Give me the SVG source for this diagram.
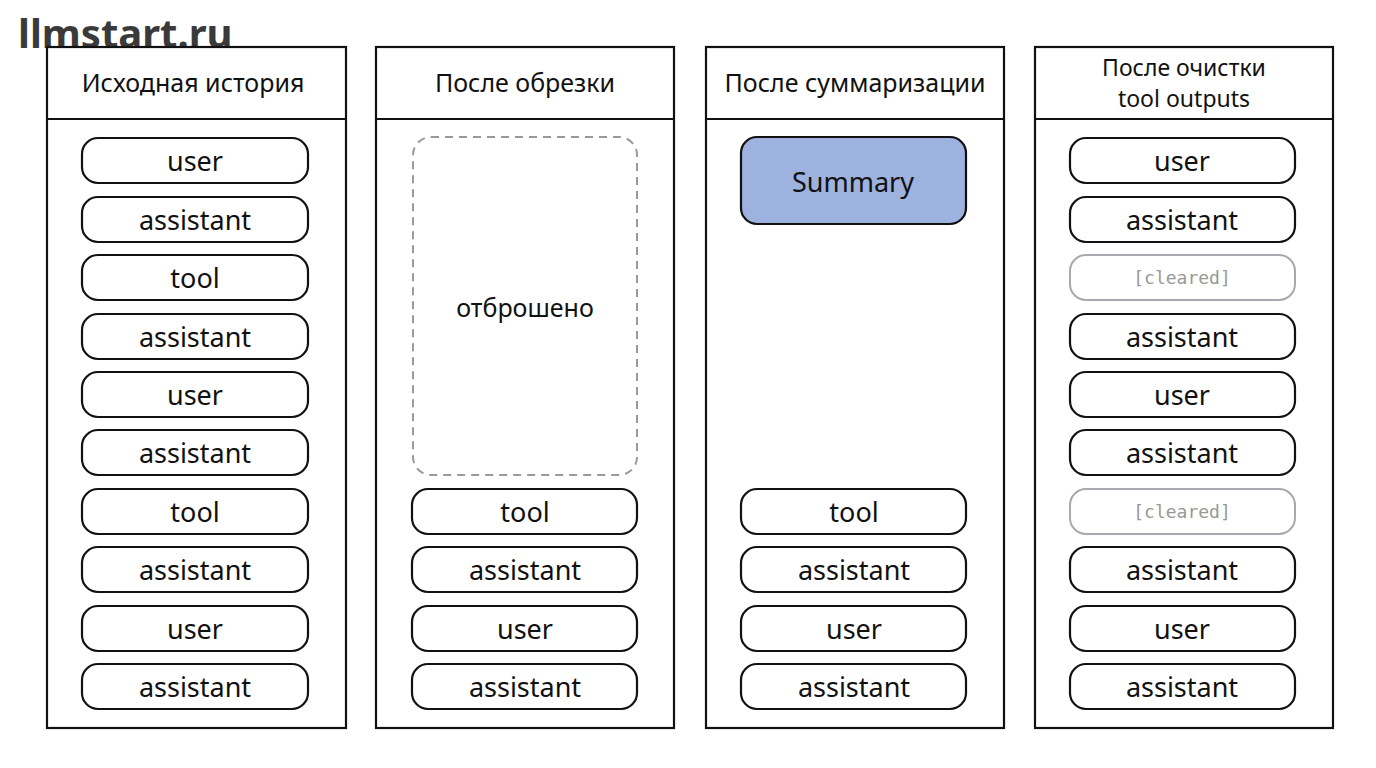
<svg xmlns="http://www.w3.org/2000/svg" width="1376" height="768" viewBox="0 0 1376 768">
<style>
.col{fill:#fff;stroke:#111;stroke-width:2.2}
.pill{fill:#fff;stroke:#111;stroke-width:2.2}
.clr{fill:#fff;stroke:#a8a8b0;stroke-width:2}
.t{font-family:"Noto Sans","DejaVu Sans",sans-serif;font-size:27px;fill:#111;text-anchor:middle;dominant-baseline:central}
.h{font-family:"Noto Sans","DejaVu Sans",sans-serif;font-size:25px;fill:#111;text-anchor:middle;dominant-baseline:central}
.h2{font-family:"Noto Sans","DejaVu Sans",sans-serif;font-size:23px;fill:#111;text-anchor:middle;dominant-baseline:central}
.c{font-family:"DejaVu Sans Mono","Liberation Mono",monospace;font-size:18px;fill:#999;text-anchor:middle;dominant-baseline:central}
</style>
<rect width="1376" height="768" fill="#fff"/>
<text x="18" y="48" font-family="Noto Sans, DejaVu Sans, sans-serif" font-size="40" font-weight="bold" fill="#3a3a3a">llmstart.ru</text>
<g id="col1">
<rect class="col" x="47" y="47" width="299" height="681"/><line x1="47" y1="119" x2="346" y2="119" stroke="#111" stroke-width="2.2"/>
<text class="h" x="193" y="82">Исходная история</text>
</g>
<g id="col2">
<rect class="col" x="376" y="47" width="298" height="681"/><line x1="376" y1="119" x2="674" y2="119" stroke="#111" stroke-width="2.2"/>
<text class="h" x="525" y="82">После обрезки</text>
<rect x="413" y="137" width="224" height="338" rx="18" fill="none" stroke="#999" stroke-width="2" stroke-dasharray="8,6"/>
<text class="h" x="525" y="307">отброшено</text>
</g>
<g id="col3">
<rect class="col" x="706" y="47" width="298" height="681"/><line x1="706" y1="119" x2="1004" y2="119" stroke="#111" stroke-width="2.2"/>
<text class="h" x="855" y="82">После суммаризации</text>
<rect x="741" y="137" width="225" height="87" rx="16" fill="#9db2df" stroke="#111" stroke-width="2.2"/>
<text class="t" x="853" y="181">Summary</text>
</g>
<g id="col4">
<rect class="col" x="1035" y="47" width="298" height="681"/><line x1="1035" y1="119" x2="1333" y2="119" stroke="#111" stroke-width="2.2"/>
<text class="h2" x="1184" y="67">После очистки</text>
<text class="h2" x="1184" y="98">tool outputs</text>
</g>
<g id="msgs">
<g transform="translate(82,0)">
<rect class="pill" x="0" y="138" width="226" height="45" rx="16"/><text class="t" x="113" y="160">user</text>
<rect class="pill" x="0" y="197" width="226" height="45" rx="16"/><text class="t" x="113" y="219">assistant</text>
<rect class="pill" x="0" y="255" width="226" height="45" rx="16"/><text class="t" x="113" y="277">tool</text>
<rect class="pill" x="0" y="314" width="226" height="45" rx="16"/><text class="t" x="113" y="336">assistant</text>
<rect class="pill" x="0" y="372" width="226" height="45" rx="16"/><text class="t" x="113" y="394">user</text>
<rect class="pill" x="0" y="430" width="226" height="45" rx="16"/><text class="t" x="113" y="452">assistant</text>
<rect class="pill" x="0" y="489" width="226" height="45" rx="16"/><text class="t" x="113" y="511">tool</text>
<rect class="pill" x="0" y="547" width="226" height="45" rx="16"/><text class="t" x="113" y="569">assistant</text>
<rect class="pill" x="0" y="606" width="226" height="45" rx="16"/><text class="t" x="113" y="628">user</text>
<rect class="pill" x="0" y="664" width="226" height="45" rx="16"/><text class="t" x="113" y="686">assistant</text>
</g>
<g transform="translate(412,0)">
<rect class="pill" x="0" y="489" width="225" height="45" rx="16"/><text class="t" x="113" y="511">tool</text>
<rect class="pill" x="0" y="547" width="225" height="45" rx="16"/><text class="t" x="113" y="569">assistant</text>
<rect class="pill" x="0" y="606" width="225" height="45" rx="16"/><text class="t" x="113" y="628">user</text>
<rect class="pill" x="0" y="664" width="225" height="45" rx="16"/><text class="t" x="113" y="686">assistant</text>
</g>
<g transform="translate(741,0)">
<rect class="pill" x="0" y="489" width="225" height="45" rx="16"/><text class="t" x="113" y="511">tool</text>
<rect class="pill" x="0" y="547" width="225" height="45" rx="16"/><text class="t" x="113" y="569">assistant</text>
<rect class="pill" x="0" y="606" width="225" height="45" rx="16"/><text class="t" x="113" y="628">user</text>
<rect class="pill" x="0" y="664" width="225" height="45" rx="16"/><text class="t" x="113" y="686">assistant</text>
</g>
<g transform="translate(1070,0)">
<rect class="pill" x="0" y="138" width="225" height="45" rx="16"/><text class="t" x="112" y="160">user</text>
<rect class="pill" x="0" y="197" width="225" height="45" rx="16"/><text class="t" x="112" y="219">assistant</text>
<rect class="clr" x="0" y="255" width="225" height="45" rx="16"/><text class="c" x="112" y="277">[cleared]</text>
<rect class="pill" x="0" y="314" width="225" height="45" rx="16"/><text class="t" x="112" y="336">assistant</text>
<rect class="pill" x="0" y="372" width="225" height="45" rx="16"/><text class="t" x="112" y="394">user</text>
<rect class="pill" x="0" y="430" width="225" height="45" rx="16"/><text class="t" x="112" y="452">assistant</text>
<rect class="clr" x="0" y="489" width="225" height="45" rx="16"/><text class="c" x="112" y="511">[cleared]</text>
<rect class="pill" x="0" y="547" width="225" height="45" rx="16"/><text class="t" x="112" y="569">assistant</text>
<rect class="pill" x="0" y="606" width="225" height="45" rx="16"/><text class="t" x="112" y="628">user</text>
<rect class="pill" x="0" y="664" width="225" height="45" rx="16"/><text class="t" x="112" y="686">assistant</text>
</g>
</g>
<g id="connectors"/>
</svg>
